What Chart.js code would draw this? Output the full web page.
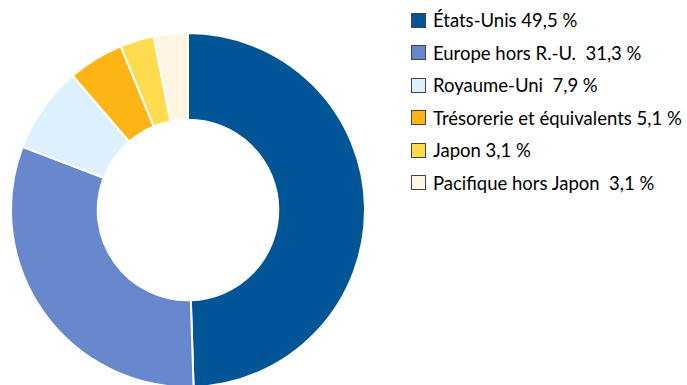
<!DOCTYPE html>
<html>
<head>
<meta charset="utf-8">
<script src="https://cdn.jsdelivr.net/npm/chart.js@4/dist/chart.umd.min.js"></script>
<style>
  html, body { margin: 0; padding: 0; background: #fff; width: 687px; height: 385px; overflow: hidden; }
  #wrap { position: absolute; left: 10px; top: 32px; width: 356px; height: 356px; }
  #legend { position: absolute; left: 411px; top: 0; font-family: Lato, "Open Sans", sans-serif; font-size: 18.5px; color: #000; }
  .item { position: absolute; left: 0; white-space: pre; display: flex; align-items: center; height: 20px; }
  .box { width: 13px; height: 13px; border: 1px solid #444; margin-right: 7px; box-sizing: content-box; }
</style>
</head>
<body>
<div id="wrap"><canvas id="c"></canvas></div>
<div id="legend"></div>
<script>
// Regional allocation of the portfolio (percent)
const regions = ["États-Unis", "Europe hors R.-U. ", "Royaume-Uni ", "Trésorerie et équivalents", "Japon", "Pacifique hors Japon "];
const weights = [49.5, 31.3, 7.9, 5.1, 3.1, 3.1];
const colours = ["#005596", "#6788cd", "#ddf0fd", "#fdb515", "#ffdb4d", "#fff5e2"];

const fmt = v => v.toFixed(1).replace(".", ",") + " %";

new Chart(document.getElementById("c"), {
  type: "doughnut",
  data: {
    labels: regions,
    datasets: [{
      data: weights,
      backgroundColor: colours,
      borderColor: "#ffffff",
      borderWidth: 2
    }]
  },
  options: {
    responsive: true,
    maintainAspectRatio: false,
    animation: false,
    cutout: "51%",
    layout: { padding: 0 },
    plugins: { legend: { display: false }, tooltip: { enabled: false } }
  }
});

// Legend list on the right
const legend = document.getElementById("legend");
regions.forEach((name, i) => {
  const row = document.createElement("div");
  row.className = "item";
  row.style.top = (10 + i * 32.5) + "px";
  const box = document.createElement("span");
  box.className = "box";
  box.style.background = colours[i];
  const txt = document.createElement("span");
  txt.textContent = name + " " + fmt(weights[i]);
  row.appendChild(box);
  row.appendChild(txt);
  legend.appendChild(row);
});
</script>
</body>
</html>
